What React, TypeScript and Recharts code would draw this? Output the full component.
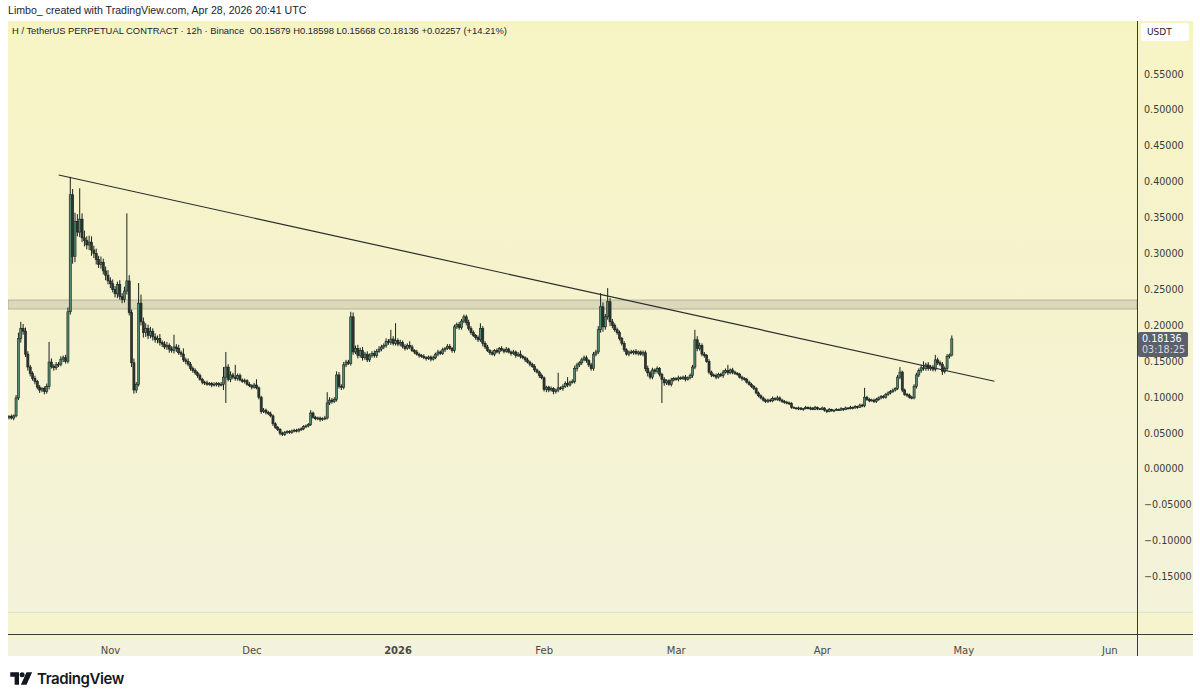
import React from "react"
import { ComposedChart, Bar, XAxis, YAxis, ReferenceLine, ReferenceArea } from "recharts"

// H/USDT perp, 12h candles from Oct 10 2025 12:00 UTC, prices in thousandths of USDT
const FIRST_OPEN = 72

const closes = [
  73, 71, 74, 99, 182, 196, 192, 160, 142, 133, 126, 122, 114, 110, 112, 108, 115, 149, 143,
  141, 145, 146, 153, 155, 150, 219, 382, 296, 345, 330, 348, 322, 318, 312, 316, 305, 300, 292, 285,
  288, 276, 270, 262, 258, 250, 244, 257, 240, 236,
  248, 262, 218, 148, 110, 118, 231, 205, 190, 196,
  186, 192, 184, 180, 182, 176, 174, 170, 172, 167,
  165, 170, 168, 162, 160, 152, 150, 146, 140, 137,
  134, 130, 125, 121, 120, 118, 119, 117, 118, 119,
  117, 118, 128, 142, 125, 131, 128, 126, 130, 124,
  122, 123, 118, 116, 114, 117, 113, 100, 80, 82,
  79, 77, 74, 63, 58, 55, 50, 48, 51, 52,
  51, 53, 54, 53, 55, 56, 59, 60, 62, 78,
  72, 70, 71, 69, 70, 71, 92, 96, 94, 97,
  131, 115, 114, 145, 149, 147, 212, 163, 168, 158,
  165, 155, 160, 152, 158, 161, 158, 164, 167, 170,
  172, 178, 176, 181, 175, 179, 174, 176, 171, 168,
  172, 170, 165, 163, 160, 158, 157, 155, 154, 156,
  153, 155, 160, 163, 161, 166, 168, 171, 168, 165,
  198, 201, 197, 206, 212, 204, 196, 190, 186, 183,
  180, 196, 175, 170, 165, 162, 160, 165, 163, 168,
  166, 164, 167, 163, 161, 163, 158, 160, 157, 155,
  152, 149, 146, 143, 138, 135, 130, 127, 111, 114,
  110, 112, 108, 110, 113, 112, 115, 119, 117, 121,
  122, 140, 145, 148, 152, 155, 151, 145, 140, 160,
  163, 194, 226, 198, 212, 233, 205, 200, 194, 190,
  182, 175, 166, 160, 163, 162, 164, 161, 163, 160,
  162, 140, 134, 128, 138, 136, 140, 132, 125, 120,
  123, 118, 124, 126, 125, 127, 126, 128, 125, 127,
  130, 142, 180, 168, 172, 160, 158, 150, 135, 131,
  130, 128, 132, 130, 135, 137, 134, 138, 135, 133,
  132, 128, 126, 125, 121, 118, 115, 112, 106, 102,
  99, 96, 94, 96, 95, 98, 97, 99, 96, 94,
  93, 92, 91, 86, 85, 84, 85, 83, 84, 86,
  84, 85, 83, 86, 84, 83, 85, 82, 80, 83,
  81, 82, 83, 82, 84, 83, 85, 84, 86, 85,
  87, 86, 89, 88, 100, 97, 95, 96, 94, 97,
  99, 101, 100, 104, 106, 108, 110, 112, 128, 135,
  110, 104, 103, 100, 99, 115, 131, 137, 141, 140,
  145, 140, 142, 139, 152, 148, 146, 136, 140, 157,
  158.79, 181.36
]

// upper wick above the body top
const wickHi = [
  2, 3, 2, 4, 8, 9, 6, 5, 4, 3, 3, 4, 2, 3, 2, 3, 4, 28, 5,
  3, 4, 3, 4, 3, 4, 6, 25, 8, 12, 10, 43, 8, 10, 6, 9, 8, 6, 7, 5,
  8, 5, 6, 7, 5, 6, 5, 4, 6, 5,
  6, 94, 8, 4, 6, 3, 28, 12, 6, 7,
  5, 6, 4, 5, 4, 6, 3, 4, 5, 3,
  4, 17, 4, 5, 3, 8, 3, 4, 3, 3,
  3, 2, 3, 2, 2, 3, 2, 2, 3, 2,
  2, 3, 14, 21, 4, 5, 3, 17, 3, 3,
  2, 3, 2, 3, 2, 3, 8, 2, 2, 3,
  2, 2, 3, 2, 2, 2, 2, 2, 2, 2,
  2, 2, 2, 2, 2, 2, 2, 2, 2, 4,
  2, 2, 2, 2, 2, 3, 15, 4, 3, 3,
  5, 4, 3, 4, 3, 3, 7, 6, 4, 5,
  4, 5, 3, 4, 3, 3, 4, 3, 4, 3,
  3, 4, 3, 13, 4, 24, 3, 4, 3, 3,
  3, 6, 3, 2, 3, 2, 2, 3, 2, 2,
  2, 3, 2, 3, 2, 3, 2, 3, 3, 2,
  3, 3, 4, 3, 3, 3, 4, 3, 3, 2,
  3, 7, 3, 3, 3, 2, 3, 2, 3, 2,
  3, 2, 3, 2, 2, 3, 2, 3, 5, 2,
  2, 3, 2, 2, 3, 2, 2, 3, 2, 2,
  2, 3, 2, 2, 21, 2, 3, 3, 9, 2,
  3, 4, 3, 2, 3, 3, 3, 2, 3, 3,
  3, 5, 19, 6, 4, 19, 5, 4, 3, 3,
  3, 2, 3, 2, 2, 3, 2, 3, 2, 2,
  3, 3, 4, 3, 3, 2, 3, 2, 2, 3,
  2, 2, 3, 2, 2, 3, 2, 2, 3, 2,
  3, 3, 14, 5, 4, 3, 3, 2, 3, 2,
  2, 3, 2, 2, 3, 3, 8, 2, 3, 2,
  2, 2, 2, 2, 2, 2, 2, 2, 2, 2,
  2, 2, 2, 2, 2, 3, 2, 3, 2, 2,
  2, 2, 2, 2, 1, 1, 2, 1, 1, 2,
  1, 2, 1, 2, 1, 1, 2, 1, 1, 2,
  1, 1, 2, 1, 2, 1, 2, 1, 2, 1,
  2, 1, 2, 2, 13, 2, 2, 2, 2, 2,
  2, 2, 2, 2, 2, 2, 2, 2, 3, 7,
  2, 2, 2, 2, 2, 3, 3, 3, 4, 9,
  3, 4, 3, 3, 7, 3, 3, 3, 3, 3,
  2, 4.62
]

// lower wick below the body bottom
const wickLo = [
  3, 2, 3, 2, 3, 6, 5, 4, 5, 4, 3, 4, 3, 4, 3, 4, 3, 4, 3,
  4, 3, 3, 3, 4, 3, 3, 4, 10, 8, 6, 7, 6, 8, 6, 7, 8, 6, 7, 5,
  6, 5, 7, 5, 6, 4, 5, 6, 4, 5,
  4, 5, 4, 6, 5, 4, 3, 5, 7, 6,
  5, 4, 5, 4, 5, 4, 4, 3, 4, 5,
  3, 4, 5, 3, 4, 3, 4, 3, 3, 3,
  3, 3, 2, 3, 3, 2, 2, 3, 2, 3,
  3, 2, 8, 36, 3, 4, 3, 3, 3, 2,
  2, 3, 2, 2, 3, 2, 2, 3, 3, 2,
  3, 2, 2, 3, 2, 2, 3, 2, 2, 2,
  2, 2, 2, 2, 2, 2, 2, 2, 2, 2,
  2, 2, 2, 3, 2, 2, 2, 3, 3, 2,
  3, 3, 4, 3, 3, 2, 3, 4, 3, 4,
  3, 4, 3, 3, 3, 3, 3, 3, 2, 3,
  3, 3, 3, 3, 3, 3, 3, 3, 3, 3,
  2, 3, 2, 3, 2, 3, 2, 2, 3, 2,
  3, 2, 2, 3, 2, 2, 3, 2, 2, 3,
  3, 3, 3, 3, 3, 4, 3, 3, 2, 3,
  3, 3, 4, 3, 2, 3, 2, 3, 2, 3,
  2, 3, 2, 2, 3, 2, 3, 2, 3, 2,
  3, 2, 3, 2, 3, 2, 3, 2, 3, 4,
  3, 2, 4, 3, 3, 2, 3, 2, 3, 2,
  2, 3, 4, 3, 3, 2, 3, 3, 3, 3,
  3, 3, 4, 7, 4, 4, 6, 4, 3, 3,
  3, 3, 3, 2, 3, 2, 3, 2, 3, 2,
  3, 4, 5, 3, 3, 4, 3, 3, 33, 4,
  3, 2, 3, 2, 2, 3, 2, 2, 3, 2,
  2, 3, 3, 4, 3, 3, 3, 2, 3, 3,
  2, 3, 2, 2, 3, 2, 3, 2, 3, 2,
  2, 2, 3, 2, 2, 2, 2, 2, 2, 2,
  2, 2, 2, 2, 2, 2, 2, 2, 2, 2,
  2, 2, 2, 2, 1, 1, 2, 1, 2, 1,
  1, 2, 1, 1, 2, 1, 1, 2, 2, 1,
  1, 2, 1, 1, 1, 2, 1, 1, 1, 2,
  1, 2, 1, 2, 2, 2, 2, 1, 2, 2,
  2, 2, 2, 2, 2, 2, 2, 2, 2, 3,
  3, 2, 3, 2, 2, 2, 3, 3, 3, 3,
  3, 3, 3, 3, 3, 3, 3, 5, 3, 3,
  3, 2.11
]

const MONTH_TICKS = [43, 103, 165, 227, 283, 345, 405, 467]
const MONTH_LABELS = ["Nov", "Dec", "2026", "Feb", "Mar", "Apr", "May", "Jun"]
const PRICE_TICKS = [0.55, 0.5, 0.45, 0.4, 0.35, 0.3, 0.25, 0.2, 0.15, 0.1, 0.05, 0, -0.05, -0.1, -0.15]
const PRICE_MIN = -0.2298
const PRICE_MAX = 0.624
const SLOT_COUNT = 479 // visible 12h slots incl. empty space up to early June

const ZONE_LOW = 0.2228
const ZONE_HIGH = 0.2354
const TREND_START = { x: 21, y: 0.4095 }
const TREND_END = { x: 418, y: 0.1222 }
const COUNTDOWN = "03:18:25"

const UP = "#4f8a6e"
const DOWN = "#2c3531"
const WICK = "#1a211e"

const candles = closes.map((c, i) => {
  const open = i === 0 ? FIRST_OPEN : closes[i - 1]
  const high = Math.max(open, c) + wickHi[i]
  const low = Math.min(open, c) - wickLo[i]
  return {
    i,
    open: open / 1000,
    close: c / 1000,
    high: high / 1000,
    low: low / 1000,
    range: [low / 1000, high / 1000]
  }
})

const slots = Array.from({ length: SLOT_COUNT }, (_, i) => candles[i] ?? { i })
const last = candles[candles.length - 1]

const CHART_LEFT = 8
const CHART_TOP = 21
const CHART_W = 1185
const CHART_H = 635
const AXIS_W = 56
const XAXIS_H = 22
const PLOT_H = CHART_H - XAXIS_H

function Candle(props: any) {
  const { x, y, width, height, payload } = props
  if (!payload || payload.open == null) return null
  const { open, close, high, low } = payload
  const cx = x + width / 2
  const k = height / (high - low || 1)
  const top = y + (high - Math.max(open, close)) * k
  const bot = y + (high - Math.min(open, close)) * k
  const bw = 2.1
  return (
    <g>
      <line x1={cx} x2={cx} y1={y} y2={y + height} stroke={WICK} strokeWidth={1} />
      <rect
        x={cx - bw / 2}
        y={top}
        width={bw}
        height={Math.max(bot - top, 0.9)}
        fill={close >= open ? UP : DOWN}
        stroke={WICK}
        strokeWidth={0.6}
      />
    </g>
  )
}

function MonthTick(props: any) {
  const { x, y, payload } = props
  const label = MONTH_LABELS[MONTH_TICKS.indexOf(payload.value)]
  return (
    <text
      x={x}
      y={y + 12}
      textAnchor="middle"
      fontSize={10}
      fontFamily="DejaVu Sans"
      fontWeight={label === "2026" ? 700 : 400}
      fill="#4a4a4a"
    >
      {label}
    </text>
  )
}

function formatPrice(v: number) {
  return v < 0 ? "\u2212" + Math.abs(v).toFixed(5) : v.toFixed(5)
}

export default function App() {
  const lastY = CHART_TOP + ((PRICE_MAX - last.close) / (PRICE_MAX - PRICE_MIN)) * PLOT_H

  return (
    <div style={{ position: "absolute", left: 0, top: 0, width: 1200, height: 700, background: "#fff", overflow: "hidden" }}>
      <div style={{ position: "absolute", left: 8, top: 4, fontFamily: "Liberation Sans", fontSize: 10.6, color: "#1e222d" }}>
        Limbo_ created with TradingView.com, Apr 28, 2026 20:41 UTC
      </div>

      {/* panel background */}
      <div
        style={{
          position: "absolute",
          left: CHART_LEFT,
          top: CHART_TOP,
          width: CHART_W,
          height: CHART_H,
          background: "linear-gradient(to bottom, #f7f4c4 0%, #f5f3cf 50%, #f3f2dc 100%)"
        }}
      />
      <div style={{ position: "absolute", left: CHART_LEFT, top: 612, width: CHART_W, height: 22, background: "#f6f4cd", borderTop: "1px solid #e2e0c8" }} />

      <div style={{ position: "absolute", left: CHART_LEFT, top: CHART_TOP }}>
        <ComposedChart
          width={CHART_W}
          height={CHART_H}
          data={slots}
          margin={{ top: 0, right: 0, bottom: 0, left: 0 }}
          barCategoryGap={0}
          style={{ overflow: "visible" }}
        >
          <XAxis
            dataKey="i"
            type="category"
            ticks={MONTH_TICKS}
            interval={0}
            height={XAXIS_H}
            axisLine={false}
            tickLine={false}
            tick={<MonthTick />}
          />
          <YAxis
            orientation="right"
            width={AXIS_W}
            domain={[PRICE_MIN, PRICE_MAX]}
            allowDataOverflow
            ticks={PRICE_TICKS}
            interval={0}
            axisLine={false}
            tickLine={false}
            tickSize={0}
            tickMargin={7}
            tickFormatter={formatPrice}
            tick={{ fontSize: 9.6, fontFamily: "DejaVu Sans", fill: "#3a3a3a", textAnchor: "start" }}
          />
          <ReferenceArea
            y1={ZONE_LOW}
            y2={ZONE_HIGH}
            fill="#bdbba2"
            fillOpacity={0.45}
            stroke="#9e9d8a"
            strokeOpacity={0.7}
          />
          <Bar dataKey="range" isAnimationActive={false} shape={(p: any) => <Candle {...p} />} />
          <ReferenceLine segment={[TREND_START, TREND_END]} stroke="#2b2b2b" strokeWidth={1.2} />
        </ComposedChart>
      </div>

      {/* axis frame */}
      <div style={{ position: "absolute", left: CHART_LEFT, top: 634, width: CHART_W, height: 1, background: "#3a3a3a" }} />
      <div style={{ position: "absolute", left: 1137, top: CHART_TOP, width: 1, height: CHART_H, background: "#3a3a3a" }} />

      <div style={{ position: "absolute", left: 12, top: 25, fontFamily: "Liberation Sans", fontSize: 9.4, color: "#1e222d", whiteSpace: "pre" }}>
        {"H / TetherUS PERPETUAL CONTRACT \u00b7 12h \u00b7 Binance  O0.15879 H0.18598 L0.15668 C0.18136 +0.02257 (+14.21%)"}
      </div>

      <div
        style={{
          position: "absolute",
          left: 1141,
          top: 23,
          width: 48,
          height: 18,
          background: "#fff",
          borderRadius: 3,
          fontFamily: "DejaVu Sans",
          fontSize: 9,
          color: "#1e222d",
          display: "flex",
          alignItems: "center",
          paddingLeft: 6,
          boxSizing: "border-box"
        }}
      >
        USDT
      </div>

      <div
        style={{
          position: "absolute",
          left: 1138,
          top: lastY - 7,
          width: 50,
          height: 25,
          background: "#5b606b",
          borderRadius: 2,
          color: "#fff",
          fontFamily: "DejaVu Sans",
          fontSize: 9.6,
          lineHeight: "11.5px",
          paddingLeft: 4,
          paddingTop: 1,
          boxSizing: "border-box"
        }}
      >
        <div>{last.close.toFixed(5)}</div>
        <div style={{ color: "#d8dae0" }}>{COUNTDOWN}</div>
      </div>

      {/* TradingView mark */}
      <div style={{ position: "absolute", left: 10, top: 669, display: "flex", alignItems: "center", gap: 4 }}>
        <svg width={23} height={15} viewBox="0 0 36 24">
          <path d="M0 2h14v20H7V9H0z" fill="#131722" />
          <circle cx={19} cy={6} r={4} fill="#131722" />
          <path d="M26 2h9l-9 20h-9z" fill="#131722" />
        </svg>
        <span style={{ fontFamily: "Inter", fontWeight: 600, fontSize: 15, color: "#131722", letterSpacing: -0.4 }}>TradingView</span>
      </div>
    </div>
  )
}
